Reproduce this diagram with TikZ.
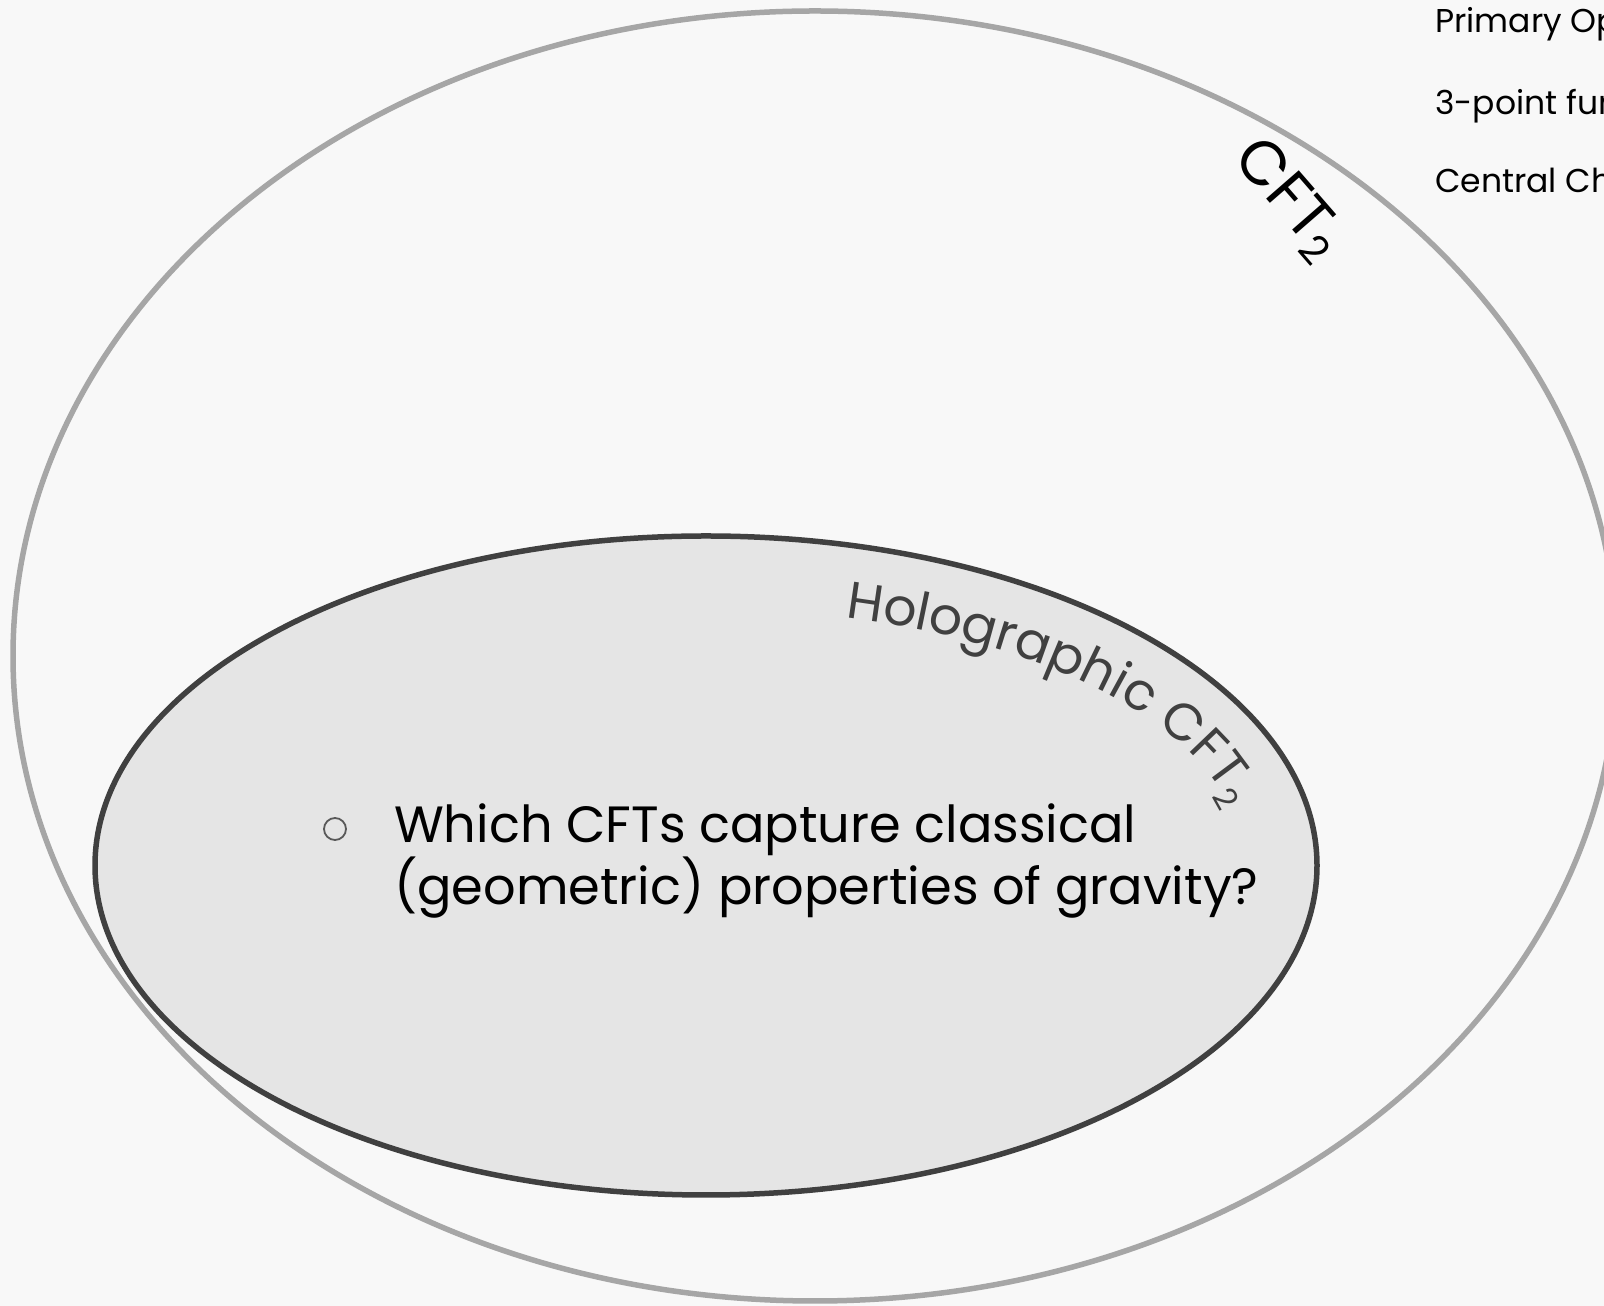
\documentclass[tikz,border=0pt]{standalone}
\usepackage{fontspec}
\setmainfont{Poppins}
\usetikzlibrary{decorations.text}

\definecolor{pagebg}{HTML}{F8F8F8}
\definecolor{outergray}{HTML}{A6A6A6}
\definecolor{innergray}{HTML}{404040}
\definecolor{innerfill}{HTML}{E5E5E5}
\definecolor{bulletgray}{HTML}{595959}

% lowered small "2" for the CFT subscripts
\newcommand{\lowtwo}[2]{\raisebox{#1}{\fontsize{#2}{#2}\selectfont 2}}

\begin{document}
\begin{tikzpicture}[x=1pt, y=1pt,
  outerset/.style={draw=outergray, line width=5.5pt},
  innerset/.style={draw=innergray, fill=innerfill, line width=5.5pt},
  sidenote/.style={anchor=base west, inner sep=0pt, font=\fontsize{33}{33}\selectfont},
  bignote/.style={inner sep=0pt, font=\fontsize{62}{62}\selectfont},
  question/.style={anchor=north west, inner sep=0pt, align=left, font=\fontsize{51}{62}\selectfont},
  bulletmark/.style={circle, draw=bulletgray, line width=1.8pt, minimum size=22pt, inner sep=0pt}
]
\useasboundingbox (0,0) rectangle (1604,1306);
\clip (0,0) rectangle (1604,1306);
\fill[pagebg] (0,0) rectangle (1604,1306);

% the two sets
\draw[outerset] (815,650) ellipse [x radius=802, y radius=645];
\draw[innerset] (706,440.5) ellipse [x radius=611, y radius=329.5];

% labels of the sets
\node[bignote, rotate=-49] (cftlabel) at (1288,1107) {CFT\kern-2pt\lowtwo{-11pt}{40}};
\path[decorate, decoration={text along path, text color=innergray,
    text={|\fontsize{52}{52}\selectfont|Holographic CFT{\lowtwo{-12pt}{32}}}}]
  (706,440.5) ++(75:539 and 257) arc[start angle=75, end angle=-30, x radius=539, y radius=257];

% notes on the right
\node[sidenote] (primops) at (1435,1273) {Primary Operators};
\node[sidenote] (threepoint) at (1435,1191) {3-point functions};
\node[sidenote] (charge) at (1435,1113) {Central Charge};

% the question
\node[bulletmark] (bullet) at (335,477) {};
\node[question] (quest) at (394,503) {Which CFTs capture classical\\(geometric) properties of gravity?};
\end{tikzpicture}
\end{document}
